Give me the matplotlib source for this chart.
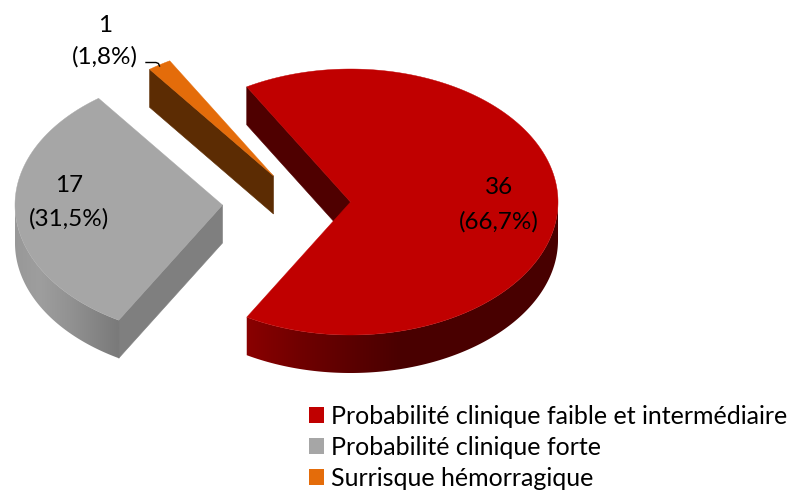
import numpy as np
import matplotlib
matplotlib.use("Agg")
import matplotlib.pyplot as plt
from matplotlib.patches import Polygon, Patch

categories = ["Probabilité clinique faible et intermédiaire",
              "Probabilité clinique forte",
              "Surrisque hémorragique"]
counts = [36, 17, 1]
percent_labels = ["66,7%", "31,5%", "1,8%"]

top_colors = ["#C00000", "#A6A6A6", "#E46C0A"]
radial_colors = ["#4F0000", "#7F7F7F", "#5C2C03"]
# outer rim gradient stops (pixel x, colour)
rim_stops = [
    ([247, 300, 360, 400, 560], [(0x8A, 0, 0), (0x70, 0, 0), (0x58, 0, 0), (0x4A, 0, 0), (0x48, 0, 0)]),
    ([14, 40, 70, 118], [(0x98, 0x98, 0x98), (0x9E, 0x9E, 0x9E), (0x92, 0x92, 0x92), (0x7A, 0x7A, 0x7A)]),
    ([0, 791], [(0x5C, 0x2C, 0x03), (0x5C, 0x2C, 0x03)]),
]
centers = [(350.5, 202), (222.5, 205), (273.5, 176)]
RX, RY, DEPTH = 207.5, 133, 38

plt.rcParams["font.family"] = ["Lato", "DejaVu Sans"]
fig = plt.figure(figsize=(7.91, 4.91), dpi=100)
ax = fig.add_axes([0, 0, 1, 1])
ax.set_xlim(0, 791)
ax.set_ylim(491, 0)
ax.axis("off")

# slice angles: first slice centred on the right-hand side, going clockwise
sweeps = np.array(counts) / sum(counts) * 360.0
ends = sweeps[0] / 2 - np.cumsum(sweeps)
starts = ends + sweeps


def pt(c, t, dz=0.0):
    r = np.radians(t)
    return c[0] + RX * np.cos(r), c[1] - RY * np.sin(r) + dz


for i in range(len(counts)):
    c = centers[i]
    t0, t1 = ends[i], starts[i]          # increasing angle t0 -> t1
    # radial side faces
    for edge, normal in ((t0, t0 - 90), (t1, t1 + 90)):
        if np.sin(np.radians(normal)) < 0:
            ex, ey = pt(c, edge)
            ax.add_patch(Polygon([(c[0], c[1]), (ex, ey), (ex, ey + DEPTH), (c[0], c[1] + DEPTH)],
                                 closed=True, fc=radial_colors[i], ec=radial_colors[i], lw=0.4, zorder=2 + i * 0.1))
    # outer rim (front half only), filled with a horizontal gradient
    ts = np.arange(t0, t1 + 0.25, 0.25)
    ts = ts[np.sin(np.radians(ts)) <= 0.001]
    if len(ts) > 1:
        upper = [pt(c, t) for t in ts]
        lower = [pt(c, t, DEPTH) for t in ts[::-1]]
        rim = Polygon(upper + lower, closed=True, fc="none", ec="none", transform=ax.transData)
        ax.add_patch(rim)
        xs_stop, col_stop = rim_stops[i]
        col_stop = np.array(col_stop, float) / 255
        px = np.arange(0, 792) + 0.5
        grad = np.stack([np.interp(px, xs_stop, col_stop[:, k]) for k in range(3)], axis=-1)[None, :, :]
        im = ax.imshow(grad, extent=(0, 792, 491, 0), aspect="auto", zorder=2.5 + i * 0.1,
                       interpolation="bilinear")
        im.set_clip_path(rim)
    # top face
    ts = np.linspace(t0, t1, 300)
    outline = [pt(c, t) for t in ts] + [c]
    ax.add_patch(Polygon(outline, closed=True, fc=top_colors[i], ec=top_colors[i], lw=0.3, zorder=3 + i * 0.1))

ax.set_xlim(0, 791)
ax.set_ylim(491, 0)

# data labels
label_pos = [((499, 188), (499, 222)), ((69, 186), (69, 219)), ((105, 25), (105, 57))]
for i in range(len(counts)):
    (x1, y1), (x2, y2) = label_pos[i]
    ax.text(x1, y1, str(counts[i]), ha="center", va="center", fontsize=17.5, color="black", zorder=6)
    ax.text(x2, y2, f"({percent_labels[i]})", ha="center", va="center", fontsize=17.5, color="black", zorder=6)

# leader line
ax.plot([146, 156, 158.5, 159.5], [62.5, 62.5, 63.5, 66], color="black", lw=1.0, zorder=6)

handles = [Patch(fc=col, ec="none") for col in top_colors]
leg = ax.legend(handles, categories, loc="upper left", bbox_to_anchor=(304 / 791, 1 - 400 / 491),
                frameon=False, fontsize=18, handlelength=0.6, handleheight=0.6,
                handletextpad=0.28, labelspacing=0.32, borderpad=0.2, borderaxespad=0)

fig.savefig("out.png", dpi=100)
